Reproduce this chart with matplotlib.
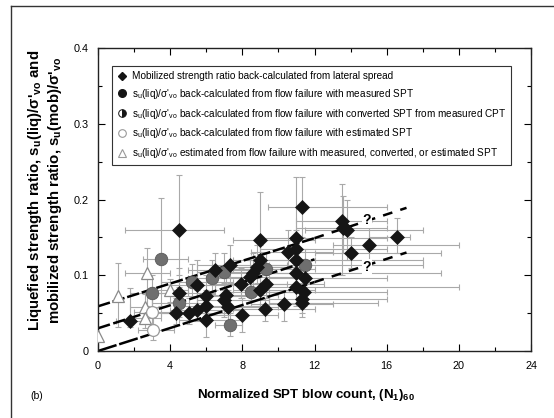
import matplotlib
matplotlib.use("Agg")
import matplotlib.pyplot as plt
from matplotlib.lines import Line2D
import numpy as np

plt.rcParams['font.family'] = ['Liberation Sans', 'DejaVu Sans']
plt.rcParams['mathtext.fontset'] = 'custom'
plt.rcParams['mathtext.rm'] = 'Liberation Sans'
plt.rcParams['mathtext.it'] = 'Liberation Sans'
plt.rcParams['mathtext.bf'] = 'Liberation Sans:bold'
plt.rcParams['lines.scale_dashes'] = False

# ---------------- data ----------------
# Lateral-spread mobilized strength ratios (diamonds)
dia_n   = [1.8, 4.5, 4.5, 4.3, 5.05, 5.5, 5.5, 6.0, 6.0, 6.0, 6.5, 7.1, 7.0, 7.2, 7.3, 7.95, 7.97,
           8.4, 8.6, 8.8, 9.0, 9.0, 9.0, 9.3, 9.26, 10.3, 10.55, 11.0, 11.0, 11.0, 11.0, 11.5, 11.0,
           11.4, 11.3, 11.3, 11.3, 13.5, 13.6, 13.8, 16.55, 15.0, 14.0]
dia_s   = [0.040, 0.160, 0.076, 0.050, 0.050, 0.054, 0.087, 0.072, 0.059, 0.041, 0.107, 0.074, 0.067,
           0.0585, 0.1135, 0.089, 0.0475, 0.098, 0.1025, 0.111, 0.1465, 0.120, 0.0805, 0.089, 0.056,
           0.062, 0.131, 0.149, 0.135, 0.120, 0.1025, 0.096, 0.085, 0.078, 0.190, 0.068, 0.064,
           0.171, 0.162, 0.160, 0.150, 0.140, 0.130]
dia_nlo = [1.0, 1.5, 3.0, 3.0, 3.5, 4.0, 4.0, 4.5, 4.5, 4.5, 5.0, 5.5, 5.5, 5.5, 5.5, 6.5, 6.0,
           6.5, 7.0, 7.0, 7.5, 7.5, 7.5, 7.5, 7.5, 8.5, 8.5, 9.0, 9.0, 9.0, 9.0, 9.5, 9.0,
           9.5, 9.4, 9.5, 9.5, 11.0, 11.0, 11.5, 15.0, 13.0, 12.0]
dia_nhi = [2.7, 7.0, 6.5, 6.0, 7.0, 8.0, 8.0, 8.5, 9.0, 8.0, 9.5, 10.0, 9.5, 10.0, 10.5, 10.5, 10.0,
           11.0, 11.0, 11.5, 12.0, 12.0, 12.0, 12.5, 12.0, 13.0, 13.0, 16.0, 16.0, 18.0, 19.0, 16.0, 20.0,
           16.0, 16.0, 16.0, 15.5, 16.0, 16.0, 18.0, 17.3, 20.0, 19.0]
dia_slo = [0.032, 0.100, 0.050, 0.035, 0.035, 0.040, 0.060, 0.050, 0.040, 0.019, 0.080, 0.050, 0.045,
           0.040, 0.090, 0.070, 0.025, 0.080, 0.080, 0.090, 0.120, 0.100, 0.060, 0.070, 0.040,
           0.040, 0.110, 0.120, 0.110, 0.100, 0.080, 0.080, 0.060, 0.060, 0.150, 0.050, 0.045,
           0.100, 0.130, 0.120, 0.130, 0.120, 0.110]
dia_shi = [0.083, 0.232, 0.110, 0.070, 0.070, 0.080, 0.120, 0.100, 0.080, 0.060, 0.130, 0.100, 0.090,
           0.080, 0.140, 0.110, 0.070, 0.120, 0.130, 0.140, 0.210, 0.140, 0.100, 0.110, 0.070,
           0.080, 0.160, 0.230, 0.160, 0.150, 0.130, 0.120, 0.110, 0.100, 0.230, 0.090, 0.080,
           0.220, 0.205, 0.200, 0.175, 0.170, 0.150]

# Flow failures, converted SPT (half-filled, appear grey)
cnv_n   = [3.0, 3.5, 4.5, 5.2, 6.3, 7.0, 8.5, 9.3, 11.5, 7.3]
cnv_s   = [0.076, 0.122, 0.063, 0.0915, 0.096, 0.1045, 0.078, 0.108, 0.1135, 0.034]
cnv_nlo = [1.8, 2.5, 3.0, 3.5, 5.0, 5.5, 7.0, 7.5, 9.5, 6.5]
cnv_nhi = [5.0, 5.0, 6.0, 7.5, 9.0, 9.5, 11.0, 12.0, 18.0, 8.0]
cnv_slo = [0.050, 0.060, 0.045, 0.070, 0.075, 0.080, 0.060, 0.090, 0.090, 0.020]
cnv_shi = [0.100, 0.2015, 0.085, 0.115, 0.120, 0.130, 0.100, 0.130, 0.135, 0.050]

# Flow failures, estimated SPT (open circles)
est_n   = [3.0, 3.07]
est_s   = [0.052, 0.028]
est_nlo = [2.0, 2.2]
est_nhi = [4.5, 4.2]
est_slo = [0.035, 0.015]
est_shi = [0.070, 0.045]

# Estimated su(liq) (open triangles)
tri_n   = [0.0, 1.1, 2.7, 2.6, 2.6, 4.0]
tri_s   = [0.020, 0.073, 0.1025, 0.058, 0.043, 0.080]
tri_nlo = [0.0, 1.1, 1.5, 1.8, 1.8, 3.0]
tri_nhi = [0.0, 1.1, 4.0, 3.5, 3.5, 5.0]
tri_slo = [0.020, 0.032, 0.060, 0.045, 0.030, 0.065]
tri_shi = [0.020, 0.116, 0.136, 0.075, 0.060, 0.095]

# Trend lines (N1)60 end points and ratios
upper_n, upper_s = [0.0, 12.0], [0.059, 0.149]
upper_ext_n, upper_ext_s = [12.0, 17.1], [0.149, 0.189]
mid_n, mid_s = [0.0, 12.0], [0.030, 0.121]
lower_n, lower_s = [0.0, 12.0], [0.0, 0.091]
lower_ext_n, lower_ext_s = [12.0, 17.1], [0.091, 0.130]
qmark_n = [14.9, 14.9]
qmark_s = [0.173, 0.111]

xticks = [0, 4, 8, 12, 16, 20, 24]
yticks = [0, 0.1, 0.2, 0.3, 0.4]
ytick_labels = ['0', '0.1', '0.2', '0.3', '0.4']

legend_labels = [
    "Mobilized strength ratio back-calculated from lateral spread",
    r"s$_u$(liq)/σ'$_{vo}$ back-calculated from flow failure with measured SPT",
    r"s$_u$(liq)/σ'$_{vo}$ back-calculated from flow failure with converted SPT from measured CPT",
    r"s$_u$(liq)/σ'$_{vo}$ back-calculated from flow failure with estimated SPT",
    r"s$_u$(liq)/σ'$_{vo}$ estimated from flow failure with measured, converted, or estimated SPT",
]

# ---------------- figure ----------------
fig = plt.figure(figsize=(5.54, 4.18), dpi=100)
ax = fig.add_axes([98/554, 1-351/418, 433/554, 303/418])

ecol = '#a9a9a9'
def ebar(n, s, nlo, nhi, slo, shi):
    n = np.array(n); s = np.array(s)
    ax.errorbar(n, s, xerr=[n - np.array(nlo), np.array(nhi) - n],
                yerr=[s - np.array(slo), np.array(shi) - s],
                fmt='none', ecolor=ecol, elinewidth=0.8, capsize=2.5, capthick=0.8, zorder=1)

ebar(dia_n, dia_s, dia_nlo, dia_nhi, dia_slo, dia_shi)
ebar(cnv_n, cnv_s, cnv_nlo, cnv_nhi, cnv_slo, cnv_shi)
ebar(est_n, est_s, est_nlo, est_nhi, est_slo, est_shi)
ebar(tri_n, tri_s, tri_nlo, tri_nhi, tri_slo, tri_shi)

lw = 1.8
ax.plot(upper_n, upper_s, color='black', lw=lw, dashes=(9, 2), zorder=2)
ax.plot(mid_n, mid_s, color='black', lw=lw, dashes=(9, 2.5), zorder=2)
ax.plot(lower_n, lower_s, color='black', lw=lw, dashes=(14, 2), zorder=2)
ax.plot(upper_ext_n, upper_ext_s, color='black', lw=lw, dashes=(7, 6), zorder=2)
ax.plot(lower_ext_n, lower_ext_s, color='black', lw=lw, dashes=(7, 6), zorder=2)
for qn, qs in zip(qmark_n, qmark_s):
    ax.text(qn, qs, '?', ha='center', va='center', fontsize=10, fontweight='bold',
            bbox=dict(facecolor='white', edgecolor='none', pad=0.5), zorder=2.5)

ax.plot(tri_n, tri_s, linestyle='none', marker='^', ms=8, mfc='white', mec='#8a8a8a', mew=0.9, zorder=3)
ax.plot(est_n, est_s, linestyle='none', marker='o', ms=8.5, mfc='white', mec='#9a9a9a', mew=0.9, zorder=3)
ax.plot(cnv_n, cnv_s, linestyle='none', marker='o', ms=9, mfc='#6f6f6f', mec='#5a5a5a', mew=0.6, zorder=3)
ax.plot(dia_n, dia_s, linestyle='none', marker='D', ms=7.5, mfc='#151515', mec='#151515', mew=0.5, zorder=4)

ax.set_xlim(0, 24)
ax.set_ylim(0, 0.4)
ax.set_xticks(xticks)
ax.set_xticks(np.arange(0, 25, 2), minor=True)
ax.set_yticks(yticks)
ax.set_yticklabels(ytick_labels)
ax.set_yticks(np.arange(0, 0.401, 0.05), minor=True)
ax.tick_params(which='both', direction='in', top=True, right=True, labelsize=7.8, width=0.8)
ax.tick_params(which='major', length=5, pad=7)
ax.tick_params(which='minor', length=3)
for sp in ax.spines.values():
    sp.set_linewidth(1.0)
    sp.set_color('#222222')

# legend
handles = [
    Line2D([], [], linestyle='none', marker='D', ms=4.5, mfc='#151515', mec='#151515'),
    Line2D([], [], linestyle='none', marker='o', ms=5.5, mfc='#151515', mec='#151515'),
    Line2D([], [], linestyle='none', marker='o', ms=5.5, fillstyle='right', mfc='#151515',
           mfcalt='white', mec='#151515', mew=0.7),
    Line2D([], [], linestyle='none', marker='o', ms=5.5, mfc='white', mec='#999999', mew=0.8),
    Line2D([], [], linestyle='none', marker='^', ms=5.5, mfc='white', mec='#999999', mew=0.8),
]
leg = ax.legend(handles, legend_labels, loc='upper left', bbox_to_anchor=((112-98)/433, (351-66)/303),
                borderaxespad=0, frameon=True, fancybox=False, framealpha=1, edgecolor='#333333',
                prop={'family': ['Liberation Sans'], 'size': 7.2},
                handlelength=0.9, handletextpad=0.6, labelspacing=0.58, borderpad=0.5)
leg.get_frame().set_linewidth(0.8)

# axis labels
fig.text(306/554, 1-395/418, r"Normalized SPT blow count, (N$_\mathbf{1}$)$_\mathbf{60}$",
         ha='center', va='center', fontsize=9.5, fontweight='bold')
fig.text(45/554, 1-190/418,
         "Liquefied strength ratio, s$_\\mathbf{u}$(liq)/σ'$_\\mathbf{vo}$ and\n"
         "mobilized strength ratio, s$_\\mathbf{u}$(mob)/σ'$_\\mathbf{vo}$",
         ha='center', va='center', rotation=90, fontsize=10.8, fontweight='bold',
         multialignment='center', linespacing=1.2)
fig.text(37/554, 1-396/418, "(b)", ha='center', va='center', fontsize=7.5)

# outer frame (partial, cropped figure border)
fig.add_artist(Line2D([11/554, 11/554], [0, 1-6/418], transform=fig.transFigure, color='#333333', lw=1.0))
fig.add_artist(Line2D([11/554, 1], [1-6/418, 1-6/418], transform=fig.transFigure, color='#333333', lw=1.0))

fig.savefig('out.png', dpi=100)
